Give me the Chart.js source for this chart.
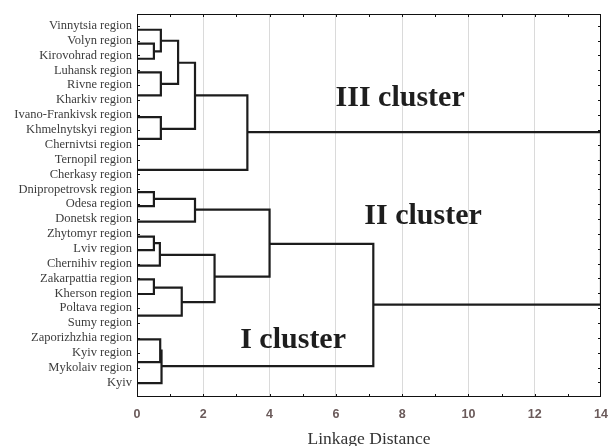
<!DOCTYPE html>
<html>
<head>
<meta charset="utf-8">
<script src="https://cdn.jsdelivr.net/npm/chart.js@4.4.0/dist/chart.umd.min.js"></script>
<style>
  html, body { margin: 0; padding: 0; background: #fff; }
</style>
</head>
<body>
<canvas id="dendro" width="609" height="446"></canvas>
<script>
// leaves, top to bottom
const leafNames = [
  'Vinnytsia region', 'Volyn region', 'Kirovohrad region', 'Luhansk region', 'Rivne region',
  'Kharkiv region', 'Ivano-Frankivsk region', 'Khmelnytskyi region', 'Chernivtsi region',
  'Ternopil region', 'Cherkasy region', 'Dnipropetrovsk region', 'Odesa region',
  'Donetsk region', 'Zhytomyr region', 'Lviv region', 'Chernihiv region',
  'Zakarpattia region', 'Kherson region', 'Poltava region', 'Sumy region',
  'Zaporizhzhia region', 'Kyiv region', 'Mykolaiv region', 'Kyiv'
];
const xTickValues = [0, 2, 4, 6, 8, 10, 12, 14];

// links as drawn: merge distance, upper branch (row, starts at distance), lower branch
const linkHeight     = [0.51, 0.72, 0.72, 1.24, 0.72, 1.75, 3.33, 14.0,
                        0.51, 1.75, 0.51, 0.69, 0.51, 1.35, 2.34, 4.00,
                        0.70, 0.74, 7.13];
const linkTopRow     = [1.21, 0.27, 3.14, 1.01, 6.15, 2.49, 4.69, 7.16,
                        11.20, 11.65, 14.19, 14.63, 17.06, 17.62, 15.42, 12.37,
                        21.10, 21.85, 14.68];
const linkTopFrom    = [0, 0, 0, 0.72, 0, 1.24, 1.75, 3.33,
                        0, 0.51, 0, 0.51, 0, 0.51, 0.69, 1.75,
                        0, 0.70, 4.00];
const linkBottomRow  = [2.22, 1.73, 4.69, 3.91, 7.61, 6.94, 9.70, 18.77,
                        12.14, 13.18, 15.10, 16.14, 18.05, 19.51, 18.59, 16.88,
                        22.63, 24.04, 22.90];
const linkBottomFrom = [0, 0.51, 0, 0.72, 0, 0.72, 0, 7.13,
                        0, 0, 0, 0, 0, 0, 1.35, 2.34,
                        0, 0, 0.74];

const clusterNames = ['III cluster', 'II cluster', 'I cluster'];

const LINE = '#1c1c1c';

const datasets = linkHeight.map((h, i) => ({
  data: [
    { x: linkTopFrom[i], y: linkTopRow[i] },
    { x: h, y: linkTopRow[i] },
    { x: h, y: linkBottomRow[i] },
    { x: linkBottomFrom[i], y: linkBottomRow[i] }
  ],
  showLine: true,
  borderColor: LINE,
  borderWidth: 2.2,
  pointRadius: 0,
  fill: false,
  tension: 0
}));

// frame, inner ticks and cluster captions
const framePlugin = {
  id: 'frame',
  afterDatasetsDraw(chart) {
    const { ctx, chartArea: a, scales } = chart;
    const sx = scales.x, sy = scales.y;
    ctx.save();
    ctx.strokeStyle = '#111';
    ctx.lineWidth = 1;
    ctx.strokeRect(a.left + 0.5, a.top + 0.5, a.right - a.left - 1, a.bottom - a.top - 1);

    ctx.beginPath();
    for (let v = 1; v < 14; v++) {
      const px = Math.round(sx.getPixelForValue(v)) + 0.5;
      ctx.moveTo(px, a.top); ctx.lineTo(px, a.top + 3);
      ctx.moveTo(px, a.bottom); ctx.lineTo(px, a.bottom - 3);
    }
    leafNames.forEach((_, i) => {
      const py = Math.round(sy.getPixelForValue(i)) + 0.5;
      ctx.moveTo(a.left, py); ctx.lineTo(a.left + 3, py);
      ctx.moveTo(a.right, py); ctx.lineTo(a.right - 3, py);
    });
    ctx.stroke();

    ctx.fillStyle = '#1e1e1e';
    ctx.font = 'bold 30px "Liberation Serif", "Times New Roman", serif';
    ctx.textAlign = 'center';
    ctx.textBaseline = 'middle';
    const at = [[7.94, 4.85], [8.63, 12.8], [4.71, 21.15]];
    clusterNames.forEach((t, i) => {
      ctx.fillText(t, sx.getPixelForValue(at[i][0]), sy.getPixelForValue(at[i][1]));
    });
    ctx.restore();
  }
};

new Chart(document.getElementById('dendro'), {
  type: 'scatter',
  data: { datasets },
  plugins: [framePlugin],
  options: {
    responsive: false,
    animation: false,
    layout: { padding: { top: 14, right: 0, left: 0, bottom: 0 } },
    plugins: { legend: { display: false }, tooltip: { enabled: false } },
    scales: {
      x: {
        type: 'linear',
        min: 0,
        max: 14,
        afterBuildTicks: s => { s.ticks = xTickValues.map(v => ({ value: v })); },
        afterFit: s => { s.height = 49; s.paddingRight = 8; s.paddingLeft = 0; },
        ticks: {
          autoSkip: false,
          maxRotation: 0,
          padding: 10,
          color: '#6a5a5a',
          font: { family: '"Liberation Sans", Arial, sans-serif', size: 12.5, weight: 'bold' }
        },
        grid: {
          drawTicks: false,
          color: c => (c.tick && c.tick.value > 0 && c.tick.value < 14) ? '#dadada' : 'rgba(0,0,0,0)'
        },
        border: { display: false },
        title: {
          display: true,
          text: 'Linkage Distance',
          color: '#333',
          padding: { top: 9, bottom: 0 },
          font: { family: '"Liberation Serif", "Times New Roman", serif', size: 17.5, lineHeight: 0.75 }
        }
      },
      y: {
        type: 'linear',
        reverse: true,
        min: -0.79,
        max: 24.98,
        afterBuildTicks: s => { s.ticks = leafNames.map((_, i) => ({ value: i })); },
        afterFit: s => { s.width = 137; },
        ticks: {
          autoSkip: false,
          padding: 5,
          color: '#3c3c3c',
          font: { family: '"Liberation Serif", "Times New Roman", serif', size: 12.5 },
          callback: v => leafNames[v]
        },
        grid: { display: false, drawTicks: false },
        border: { display: false }
      }
    }
  }
});
</script>
</body>
</html>
